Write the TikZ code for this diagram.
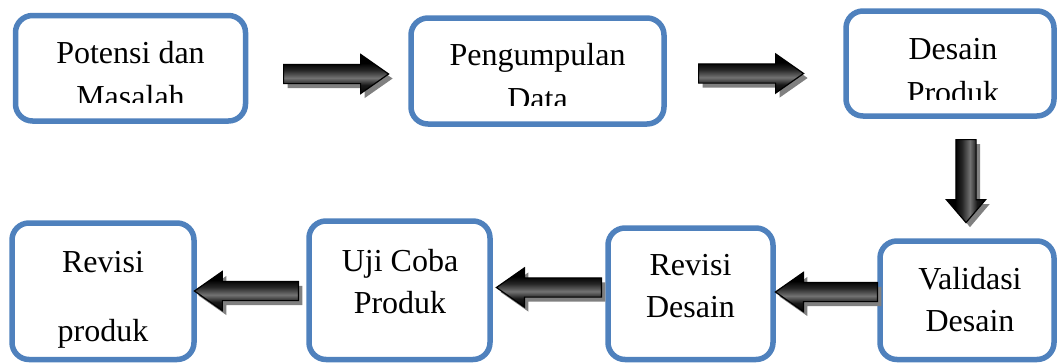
\documentclass[tikz,border=0pt]{standalone}
\usepackage{fontspec}
\setmainfont{Liberation Serif}
\usetikzlibrary{shapes.arrows,shadows}
\definecolor{boxblue}{RGB}{79,129,189}
\pgfdeclareverticalshading{arrowshade}{100bp}{color(0bp)=(black); color(25bp)=(black); color(36bp)=(black!90); color(45bp)=(black!55); color(55bp)=(black!85); color(64bp)=(black); color(75bp)=(black); color(100bp)=(black)}
\begin{document}
\begin{tikzpicture}[x=1pt,y=-1pt,
  stepbox/.style={draw=boxblue, line width=5.5pt, rounded corners=17pt, fill=white,
    anchor=north west, inner sep=0pt, outer sep=0pt},
  lbl/.style={font=\fontsize{32}{42}\selectfont, align=center, anchor=base, inner sep=0pt},
  blockarrow/.style={single arrow, draw=black, line width=1.2pt, inner sep=9pt, anchor=tail,
    single arrow head extend=10pt, single arrow tip angle=70, single arrow head indent=0pt,
    drop shadow={shadow xshift=4pt, shadow yshift=-4.5pt, fill=gray, draw=none, opacity=1}},
  hshade/.style={shading=arrowshade},
  vshade/.style={shading=arrowshade, shading angle=90}]
\useasboundingbox (0,0) rectangle (1057,362);
% boxes
\node[stepbox, minimum width=230pt, minimum height=105.5pt] (b1) at (15.5,15.5) {};
\node[stepbox, minimum width=253pt, minimum height=106pt] (b2) at (411,18) {};
\node[stepbox, minimum width=208pt, minimum height=105pt] (b3) at (846,11) {};
\node[stepbox, minimum width=182pt, minimum height=136.5pt] (b4) at (12,223) {};
\node[stepbox, minimum width=181pt, minimum height=138.5pt] (b5) at (309,221) {};
\node[stepbox, minimum width=165pt, minimum height=131.5pt] (b6) at (608,228) {};
\node[stepbox, minimum width=174pt, minimum height=118.5pt] (b7) at (880,241) {};
% texts (base anchor = baseline of the last line)
\begin{scope}
  \clip (0,0) rectangle (300,102);
  \node[lbl] (t1) at (130.5,107) {Potensi dan\\[2pt]Masalah};
\end{scope}
\begin{scope}
  \clip (300,0) rectangle (700,105);
  \node[lbl] (t2) at (537.5,109) {Pengumpulan\\[2pt]Data};
\end{scope}
\begin{scope}
  \clip (800,0) rectangle (1057,99);
  \node[lbl] (t3) at (953,103) {Desain\\[2pt]Produk};
\end{scope}
\node[lbl] (t4) at (103,341) {Revisi\\[27pt]produk};
\node[lbl] (t5) at (400,313) {Uji Coba\\Produk};
\node[lbl] (t6) at (690.5,317.5) {Revisi\\Desain};
\node[lbl] (t7) at (970,331) {Validasi\\Desain};
% block arrows (placed by their tails)
\node[blockarrow, hshade, minimum height=105pt] (a1) at (283,74) {};
\node[blockarrow, hshade, minimum height=105pt] (a2) at (698,73.5) {};
\node[blockarrow, vshade, shape border rotate=270, minimum height=83pt,
  inner sep=9.5pt, single arrow head extend=9.5pt, single arrow tip angle=81] (a3) at (966,139) {};
\node[blockarrow, hshade, shape border rotate=180, minimum height=104pt] (a4) at (299,291) {};
\node[blockarrow, hshade, shape border rotate=180, minimum height=105pt] (a5) at (602,287.5) {};
\node[blockarrow, hshade, shape border rotate=180, minimum height=102pt] (a6) at (878,292) {};
\end{tikzpicture}
\end{document}
